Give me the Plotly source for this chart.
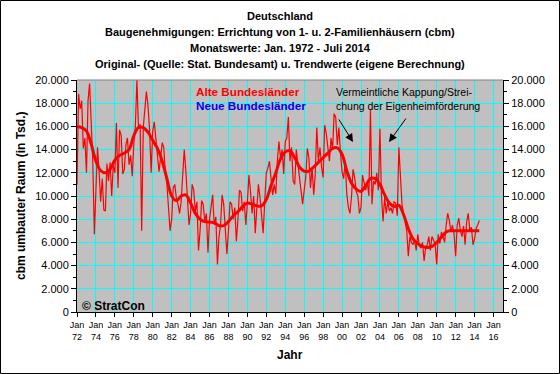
import plotly.graph_objects as go

# ---------------- data ----------------
months = [1, 3, 5, 7, 9, 11]  # bimonthly readings (Jan, Mar, May, Jul, Sep, Nov)
years = list(range(1972, 2015))

# original values (Alte Bundesländer), cbm umbauter Raum in Tsd.
raw_values = [
    [11000, 18800, 17500, 18200, 14100, 15000],  # 1972
    [12000, 18200, 19700, 15500, 13000, 6700],   # 1973
    [11600, 14200, 12200, 9500, 11500, 8800],    # 1974
    [8700, 12800, 11300, 12900, 10000, 12600],   # 1975
    [12000, 16300, 10700, 15700, 15200, 11900],  # 1976
    [12300, 14400, 15000, 12700, 13500, 11700],  # 1977
    [14500, 16000, 20000, 15800, 16200, 7000],   # 1978
    [15900, 17500, 19000, 17800, 15700, 12000],  # 1979
    [15600, 16400, 15200, 13500, 12100, 13300],  # 1980
    [14600, 14200, 12000, 11000, 8500, 7000],    # 1981
    [8000, 10700, 11000, 9800, 9300, 8500],      # 1982
    [9500, 11500, 14000, 12200, 10000, 7500],    # 1983
    [8500, 11000, 10500, 8700, 9500, 5300],      # 1984
    [7000, 9600, 9300, 7800, 8500, 5100],        # 1985
    [8000, 9000, 10100, 7500, 8200, 4100],       # 1986
    [6500, 7500, 10100, 9300, 6600, 5000],       # 1987
    [7000, 9500, 9300, 8000, 9000, 6100],        # 1988
    [8000, 10500, 10300, 8700, 9500, 7500],      # 1989
    [9500, 11800, 10400, 8500, 10000, 6800],     # 1990
    [9000, 11000, 9900, 8500, 6800, 9500],       # 1991
    [12000, 12400, 13000, 11500, 10100, 11000],  # 1992
    [10200, 13000, 14700, 13300, 14000, 11900],  # 1993
    [14700, 15000, 16800, 13000, 14200, 11300],  # 1994
    [11000, 14000, 12700, 11600, 10400, 9300],   # 1995
    [10500, 11600, 14100, 13300, 10700, 12500],  # 1996
    [10100, 11800, 15900, 13000, 14200, 12500],  # 1997
    [11600, 16100, 15400, 14200, 13000, 15000],  # 1998
    [14000, 17100, 16800, 14400, 15900, 13700],  # 1999
    [12100, 11500, 13000, 10200, 9000, 8500],    # 2000
    [10000, 12300, 11600, 10400, 10000, 8500],   # 2001
    [9000, 11800, 11000, 10500, 11200, 10000],   # 2002
    [17500, 9300, 11300, 11000, 12000, 10500],   # 2003
    [15800, 10000, 7800, 9900, 8500, 9500],      # 2004
    [8700, 9000, 8500, 9500, 9400, 8300],        # 2005
    [14200, 11600, 9300, 8500, 7800, 7000],      # 2006
    [4800, 6500, 6000, 5800, 6200, 5300],        # 2007
    [6700, 5700, 5500, 6000, 4400, 5600],        # 2008
    [5800, 6500, 5300, 6500, 6200, 5800],        # 2009
    [4100, 6700, 5900, 6900, 6500, 6000],        # 2010
    [7500, 8500, 7900, 6900, 7500, 6700],        # 2011
    [4800, 7500, 8100, 7000, 6500, 7400],        # 2012
    [5800, 7800, 8500, 7000, 7300, 5800],        # 2013
    [6300, 7200, 7500, 7900],                    # 2014 (bis Juli)
]

# trend values, half-yearly (January / July)
trend_values = [
    16000, 15900, 15600, 14500, 13000, 12200, 12000, 12300, 13100, 13500,  # 1972-1976
    13700, 14000, 15200, 15900, 15900, 15500, 14800, 14100, 13000, 11500,  # 1977-1981
    10000, 9600, 10000, 10100, 9400, 8500, 8000, 7800, 7750, 7700,         # 1982-1986
    7450, 7450, 7800, 8300, 8650, 9100, 9400, 9300, 9150, 9150,            # 1987-1991
    9700, 10900, 12000, 13200, 13800, 13900, 13300, 12500, 12150, 12150,   # 1992-1996
    12500, 12900, 13300, 13700, 14100, 14150, 13600, 12200, 11100, 10600,  # 1997-2001
    10400, 10900, 11500, 11500, 11000, 10100, 9400, 9100, 9200, 8400,      # 2002-2006
    7200, 6300, 5900, 5650, 5550, 5650, 6000, 6450, 6900, 7000,            # 2007-2011
    7000, 7000, 7000, 7000, 7000, 7000,                                    # 2012-2014
]
trend_months = [1, 7]

tick_years = [1972, 1974, 1976, 1978, 1980, 1982, 1984, 1986, 1988, 1990, 1992, 1994,
              1996, 1998, 2000, 2002, 2004, 2006, 2008, 2010, 2012, 2014, 2016]

# ---------------- build series ----------------
raw_x, raw_y = [], []
for yr, vals in zip(years, raw_values):
    for m, v in zip(months, vals):
        raw_x.append(f"{yr}-{m:02d}-01")
        raw_y.append(v)

trend_x = []
for i in range(len(trend_values)):
    trend_x.append(f"{1972 + i // 2}-{trend_months[i % 2]:02d}-01")

tick_vals = [f"{y}-01-01" for y in tick_years]
tick_text = [f"Jan<br>{str(y)[2:]}" for y in tick_years]

FONT = "Arial, Liberation Sans, sans-serif"

fig = go.Figure()
fig.add_trace(go.Scatter(x=raw_x, y=raw_y, mode="lines",
                         line=dict(color="#FF0000", width=1.2), hoverinfo="skip"))
fig.add_trace(go.Scatter(x=trend_x, y=trend_values, mode="lines",
                         line=dict(color="#FF0000", width=3, shape="spline"), hoverinfo="skip"))
fig.add_trace(go.Scatter(x=[raw_x[0]], y=[raw_y[0]], yaxis="y2", mode="lines",
                         line=dict(width=0), showlegend=False, hoverinfo="skip"))

L, R, T, B = 77, 57, 80, 62
PW, PH = 560 - L - R, 374 - T - B


def px(xp):
    return (xp - L) / PW


def py(yp):
    return (T + PH - yp) / PH


fig.update_layout(
    width=560, height=374, autosize=False,
    margin=dict(l=L, r=R, t=T, b=B, pad=0),
    paper_bgcolor="white", plot_bgcolor="#C0C0C0",
    showlegend=False, separators=",.",
    font=dict(family=FONT, size=11, color="black"),
    xaxis=dict(type="date", range=["1972-01-01", "2017-01-01"],
               tickmode="array", tickvals=tick_vals, ticktext=tick_text,
               tickfont=dict(size=9), showgrid=True, gridcolor="#00FFFF", gridwidth=1,
               showline=True, linecolor="black", linewidth=1, mirror=False,
               ticks="outside", ticklen=4, tickcolor="black", zeroline=False),
    yaxis=dict(range=[0, 20000], dtick=2000, tick0=0, tickformat=",d",
               showgrid=True, gridcolor="#00FFFF", gridwidth=1,
               showline=True, linecolor="black", linewidth=1,
               ticks="outside", ticklen=5, tickcolor="black", zeroline=False,
               tickfont=dict(size=11),
               minor=dict(dtick=1000, ticks="outside", ticklen=3, tickcolor="black", showgrid=False)),
    yaxis2=dict(range=[0, 20000], dtick=2000, tick0=0, tickformat=",d",
                overlaying="y", side="right", showgrid=False,
                showline=True, linecolor="black", linewidth=1,
                ticks="outside", ticklen=5, tickcolor="black", zeroline=False,
                tickfont=dict(size=11),
                minor=dict(dtick=1000, ticks="outside", ticklen=3, tickcolor="black", showgrid=False)),
)

# frame: grey top border and black outer border
fig.add_shape(type="line", xref="paper", yref="paper", x0=0, x1=1, y0=1, y1=1,
              line=dict(color="#808080", width=1))
fig.add_shape(type="rect", xref="paper", yref="paper",
              x0=px(0.5), x1=px(559.5), y0=py(373.5), y1=py(0.5),
              line=dict(color="black", width=1))

titles = ["Deutschland",
          "Baugenehmigungen: Errichtung von 1- u. 2-Familienhäusern (cbm)",
          "Monatswerte: Jan. 1972 - Juli 2014",
          "Original- (Quelle: Stat. Bundesamt) u. Trendwerte (eigene Berechnung)"]
for i, t in enumerate(titles):
    fig.add_annotation(text=f"<b>{t}</b>", xref="paper", yref="paper",
                       x=px(280), y=py(16 + 16 * i), xanchor="center", yanchor="middle",
                       showarrow=False, font=dict(size=11, family=FONT))

fig.add_annotation(text="<b>cbm umbauter Raum (in Tsd.)</b>", xref="paper", yref="paper",
                   x=px(21), y=py(196), textangle=-90, showarrow=False,
                   xanchor="center", yanchor="middle", font=dict(size=12, family=FONT))
fig.add_annotation(text="<b>Jahr</b>", xref="paper", yref="paper",
                   x=px(290), y=py(355), showarrow=False,
                   xanchor="center", yanchor="middle", font=dict(size=12, family=FONT))

fig.add_annotation(text="<b>Alte Bundesländer</b>", xref="paper", yref="paper",
                   x=px(194), y=py(91), xanchor="left", yanchor="middle", showarrow=False,
                   font=dict(size=11.7, color="#FF0000", family=FONT))
fig.add_annotation(text="<b>Neue Bundesländer</b>", xref="paper", yref="paper",
                   x=px(194), y=py(106), xanchor="left", yanchor="middle", showarrow=False,
                   font=dict(size=11.7, color="#0000FF", family=FONT))

fig.add_annotation(text="Vermeintliche Kappung/Strei-", xref="paper", yref="paper",
                   x=px(334), y=py(92), xanchor="left", yanchor="middle", showarrow=False,
                   font=dict(size=10.5, family=FONT))
fig.add_annotation(text="chung der Eigenheimförderung", xref="paper", yref="paper",
                   x=px(334), y=py(106), xanchor="left", yanchor="middle", showarrow=False,
                   font=dict(size=10.5, family=FONT))

fig.add_annotation(text="", xref="paper", yref="paper", x=px(353), y=py(142),
                   ax=-15, ay=-24, showarrow=True, arrowhead=2, arrowsize=1.6,
                   arrowwidth=1, arrowcolor="black", standoff=0)
fig.add_annotation(text="", xref="paper", yref="paper", x=px(389), y=py(142),
                   ax=18, ay=-25, showarrow=True, arrowhead=2, arrowsize=1.6,
                   arrowwidth=1, arrowcolor="black", standoff=0)

fig.add_annotation(text="<b>© StratCon</b>", xref="paper", yref="paper",
                   x=px(80), y=py(306), xanchor="left", yanchor="middle", showarrow=False,
                   font=dict(size=12, family=FONT))

fig.write_html("out.html", config={"displayModeBar": False},
               post_script="document.body.style.margin='0';document.body.style.padding='0';")
